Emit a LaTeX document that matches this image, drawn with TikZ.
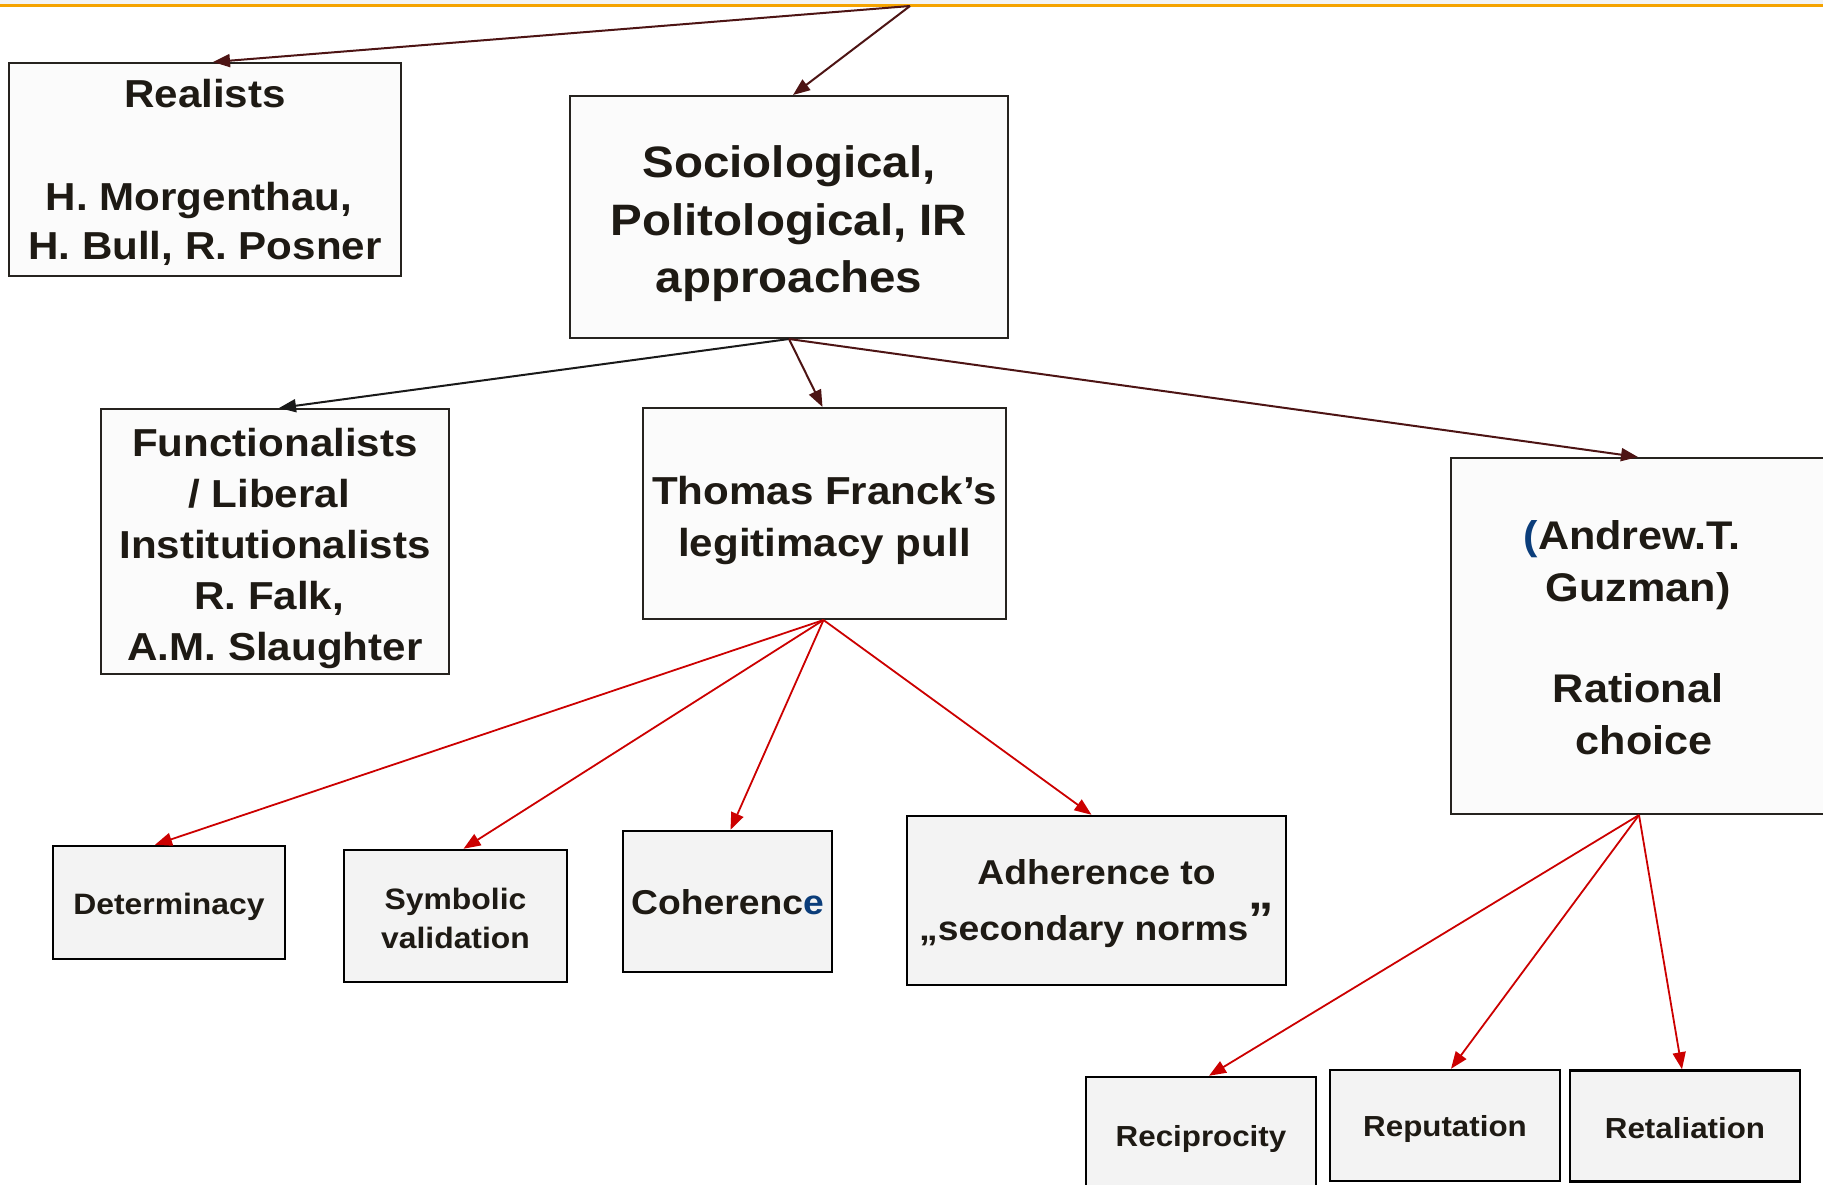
\documentclass[tikz,border=0pt]{standalone}
\usepackage{fontspec}
\setmainfont{Liberation Sans}[FakeStretch=1.08]
\usetikzlibrary{arrows.meta}
\definecolor{txtc}{HTML}{1E1A14}
\definecolor{topfill}{HTML}{FBFBFB}
\definecolor{botfill}{HTML}{F3F3F3}
\definecolor{borderc}{HTML}{26231F}
\definecolor{maroonc}{HTML}{4D1414}
\definecolor{redc}{HTML}{CC0000}
\definecolor{bluec}{HTML}{0B3D7A}
\definecolor{orangec}{HTML}{F5A300}
\definecolor{bandc}{HTML}{F3F3F3}
\newcommand\myfs[2]{\fontsize{#1}{#2}\selectfont}
\newcommand\tsp{\kern0.3em\relax}
\begin{document}
\begin{tikzpicture}[x=1pt,y=-1pt,
  topbox/.style={draw=borderc, line width=2pt, fill=topfill, inner sep=0pt},
  botbox/.style={draw=black, line width=2.5pt, fill=botfill, inner sep=0pt},
  lbl/.style={text=txtc, align=center, inner sep=0pt},
  arr/.style={-{Triangle[length=17pt,width=13pt]}, line width=2pt, draw=maroonc},
  blackarr/.style={-{Triangle[length=17pt,width=13pt]}, line width=2pt, draw=black!90},
  redarr/.style={-{Triangle[length=17pt,width=13pt]}, line width=1.8pt, draw=redc}]
\clip (0,0) rectangle (1823,1184);
\useasboundingbox (0,0) rectangle (1823,1184);
\fill[white] (0,0) rectangle (1823,1184);
\fill[bandc] (0,0) rectangle (1823,4.5);
\draw[orangec, line width=2.5pt] (0,5.5) -- (1823,5.5);
\coordinate (apex) at (910,6);

% boxes
\node[topbox, minimum width=392pt, minimum height=213pt] (real) at (205,169.5) {};
\node[topbox, minimum width=438pt, minimum height=242pt] (soc) at (789,217) {};
\node[topbox, minimum width=348pt, minimum height=265pt] (func) at (275,541.5) {};
\node[topbox, minimum width=363pt, minimum height=211pt] (franck) at (824.5,513.5) {};
\node[topbox, minimum width=374pt, minimum height=356pt] (guz) at (1638,636) {};
\node[botbox, minimum width=232pt, minimum height=113pt] (det) at (169,902.5) {};
\node[botbox, minimum width=223pt, minimum height=132pt] (sym) at (455.5,916) {};
\node[botbox, minimum width=209pt, minimum height=141pt] (coh) at (727.5,901.5) {};
\node[botbox, minimum width=379pt, minimum height=169pt] (adh) at (1096.5,900.5) {};
\node[botbox, minimum width=230pt, minimum height=116pt] (rec) at (1201,1135) {};
\node[botbox, minimum width=230pt, minimum height=111pt] (rep) at (1445,1125.5) {};
\node[botbox, minimum width=230pt, minimum height=111pt] (ret) at (1685,1126) {};

% texts
\node[lbl, font=\bfseries\myfs{39}{49}] (real-t) at ([yshift=-3pt]real.center)
  {Realists\\[54pt]H. Morgenthau,\tsp\\H. Bull, R. Posner};
\node[lbl, font=\bfseries\myfs{44}{57.5}] (soc-t) at ([yshift=-7pt]soc.center)
  {Sociological,\\Politological, IR\\approaches};
\node[lbl, font=\bfseries\myfs{39}{51}] (func-t) at ([yshift=-7pt]func.center)
  {Functionalists\\/ Liberal\tsp\\Institutionalists\\R. Falk,\tsp\\A.M. Slaughter};
\node[lbl, font=\bfseries\myfs{39}{52}] (franck-t) at ([yshift=-7pt]franck.center)
  {Thomas Franck’s\\legitimacy pull};
\node[lbl, font=\bfseries\myfs{40}{52}] (guz-t) at ([yshift=-2pt]guz.center)
  {{\color{bluec}(}Andrew.T.\tsp\\Guzman)\\[49pt]Rational\\\tsp choice};
\node[lbl, font=\bfseries\myfs{29.5}{38}] (det-t) at ([yshift=-4.5pt]det.center) {Determinacy};
\node[lbl, font=\bfseries\myfs{29.5}{39}] (sym-t) at ([yshift=-2pt]sym.center) {Symbolic\\validation};
\node[lbl, font=\bfseries\myfs{34.5}{42}] (coh-t) at ([yshift=-1pt]coh.center) {Coherenc{\color{bluec}e}};
\node[lbl, font=\bfseries\myfs{34.5}{56}] (adh-t) at ([yshift=-3pt]adh.center)
  {Adherence to\\„secondary norms\raisebox{5pt}{\myfs{47}{47}”}};
\node[lbl, font=\bfseries\myfs{29}{36}] (rec-t) at ([yshift=-3.5pt]rec.center) {Reciprocity};
\node[lbl, font=\bfseries\myfs{29}{36}] (rep-t) at ([yshift=-3.5pt]rep.center) {Reputation};
\node[lbl, font=\bfseries\myfs{29}{36}] (ret-t) at ([yshift=-2.5pt]ret.center) {Retaliation};

% connectors
\draw[arr] (apex) -- ([xshift=8pt]real.north);
\draw[arr] (apex) -- ([xshift=4pt]soc.north);
\draw[blackarr] (soc.south) -- ([xshift=4pt]func.north);
\draw[arr] (soc.south) -- ([xshift=-2pt]franck.north);
\draw[arr] (soc.south) -- (guz.north);

\draw[redarr] ([xshift=-1pt]franck.south) -- ([xshift=-14pt]det.north);
\draw[redarr] ([xshift=-1pt]franck.south) -- ([xshift=8pt]sym.north);
\draw[redarr] ([xshift=-1pt]franck.south) -- ([xshift=3pt]coh.north);
\draw[redarr] ([xshift=-1pt]franck.south) -- ([xshift=-5pt]adh.north);

\draw[redarr] ([xshift=1pt]guz.south) -- ([xshift=8pt]rec.north);
\draw[redarr] ([xshift=1pt]guz.south) -- ([xshift=6pt]rep.north);
\draw[redarr] ([xshift=1pt]guz.south) -- ([xshift=-3pt]ret.north);
\end{tikzpicture}
\end{document}
